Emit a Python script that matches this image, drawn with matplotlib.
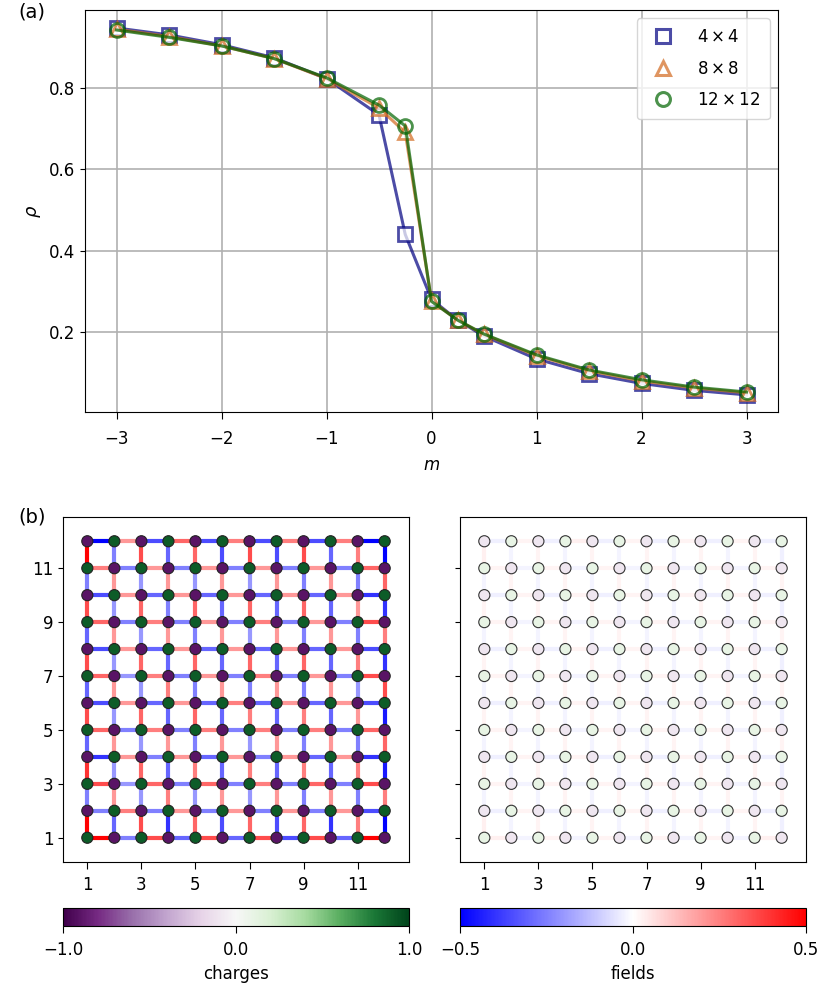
import numpy as np
import matplotlib
matplotlib.use("Agg")
import matplotlib.pyplot as plt
from matplotlib.collections import LineCollection
from matplotlib.lines import Line2D
from matplotlib.cm import ScalarMappable
from matplotlib.colors import Normalize

plt.rcParams['font.family'] = ['DejaVu Sans']
plt.rcParams['font.size'] = 12

# ---------------- panel (a) data ----------------
m_vals = [-3, -2.5, -2, -1.5, -1, -0.5, -0.25, 0, 0.25, 0.5, 1, 1.5, 2, 2.5, 3]
rho_4 = [0.946, 0.929, 0.905, 0.873, 0.822, 0.733, 0.440, 0.281, 0.230, 0.191, 0.135, 0.099, 0.075, 0.058, 0.047]
rho_8 = [0.943, 0.925, 0.902, 0.871, 0.822, 0.750, 0.690, 0.277, 0.230, 0.195, 0.143, 0.106, 0.081, 0.064, 0.052]
rho_12 = [0.941, 0.923, 0.902, 0.871, 0.824, 0.757, 0.706, 0.276, 0.230, 0.196, 0.145, 0.108, 0.084, 0.066, 0.054]
series_labels = [r'$4\times4$', r'$8\times8$', r'$12\times12$']

# ---------------- panel (b) data ----------------
L = 12
# site charges, rows from y=12 (top) down to y=1
charges_left = [
    [-0.9, 0.9, -0.9, 0.9, -0.9, 0.9, -0.9, 0.9, -0.9, 0.9, -0.9, 0.9],
    [0.9, -0.9, 0.9, -0.9, 0.9, -0.9, 0.9, -0.9, 0.9, -0.9, 0.9, -0.9],
    [-0.9, 0.9, -0.9, 0.9, -0.9, 0.9, -0.9, 0.9, -0.9, 0.9, -0.9, 0.9],
    [0.9, -0.9, 0.9, -0.9, 0.9, -0.9, 0.9, -0.9, 0.9, -0.9, 0.9, -0.9],
    [-0.9, 0.9, -0.9, 0.9, -0.9, 0.9, -0.9, 0.9, -0.9, 0.9, -0.9, 0.9],
    [0.9, -0.9, 0.9, -0.9, 0.9, -0.9, 0.9, -0.9, 0.9, -0.9, 0.9, -0.9],
    [-0.9, 0.9, -0.9, 0.9, -0.9, 0.9, -0.9, 0.9, -0.9, 0.9, -0.9, 0.9],
    [0.9, -0.9, 0.9, -0.9, 0.9, -0.9, 0.9, -0.9, 0.9, -0.9, 0.9, -0.9],
    [-0.9, 0.9, -0.9, 0.9, -0.9, 0.9, -0.9, 0.9, -0.9, 0.9, -0.9, 0.9],
    [0.9, -0.9, 0.9, -0.9, 0.9, -0.9, 0.9, -0.9, 0.9, -0.9, 0.9, -0.9],
    [-0.9, 0.9, -0.9, 0.9, -0.9, 0.9, -0.9, 0.9, -0.9, 0.9, -0.9, 0.9],
    [0.9, -0.9, 0.9, -0.9, 0.9, -0.9, 0.9, -0.9, 0.9, -0.9, 0.9, -0.9],
]
# horizontal link fields (x -> x+1), rows from y=12 down to y=1
fields_h_left = [
    [-0.5, 0.2, -0.35, 0.3, -0.35, 0.25, -0.35, 0.25, -0.35, 0.25, -0.5],
    [0.25, -0.25, 0.2, -0.25, 0.2, -0.25, 0.2, -0.25, 0.2, -0.25, 0.3],
    [-0.35, 0.2, -0.3, 0.2, -0.3, 0.2, -0.3, 0.2, -0.3, 0.2, -0.4],
    [0.3, -0.25, 0.25, -0.25, 0.2, -0.25, 0.25, -0.25, 0.2, -0.25, 0.35],
    [-0.35, 0.2, -0.3, 0.2, -0.3, 0.2, -0.3, 0.2, -0.3, 0.2, -0.35],
    [0.3, -0.2, 0.25, -0.25, 0.2, -0.25, 0.25, -0.25, 0.2, -0.25, 0.35],
    [-0.35, 0.2, -0.3, 0.2, -0.3, 0.25, -0.3, 0.2, -0.3, 0.2, -0.35],
    [0.3, -0.25, 0.25, -0.25, 0.25, -0.25, 0.25, -0.25, 0.25, -0.25, 0.3],
    [-0.4, 0.2, -0.25, 0.2, -0.3, 0.2, -0.25, 0.2, -0.3, 0.2, -0.4],
    [0.35, -0.2, 0.3, -0.25, 0.3, -0.25, 0.25, -0.25, 0.3, -0.25, 0.35],
    [-0.25, 0.25, -0.25, 0.2, -0.25, 0.2, -0.25, 0.2, -0.25, 0.2, -0.35],
    [0.5, -0.25, 0.35, -0.3, 0.35, -0.3, 0.35, -0.35, 0.35, -0.3, 0.5],
]
# vertical link fields (y -> y+1), rows from (11->12) down to (1->2)
fields_v_left = [
    [0.5, -0.25, 0.35, -0.3, 0.3, -0.35, 0.35, -0.35, 0.35, -0.3, 0.25, -0.5],
    [-0.25, 0.2, -0.2, 0.2, -0.2, 0.2, -0.2, 0.2, -0.25, 0.2, -0.25, 0.3],
    [0.35, -0.2, 0.3, -0.25, 0.3, -0.3, 0.3, -0.3, 0.3, -0.3, 0.2, -0.4],
    [-0.3, 0.2, -0.2, 0.2, -0.25, 0.2, -0.2, 0.2, -0.25, 0.2, -0.25, 0.25],
    [0.35, -0.2, 0.3, -0.3, 0.3, -0.3, 0.3, -0.3, 0.3, -0.3, 0.25, -0.4],
    [-0.3, 0.2, -0.2, 0.25, -0.25, 0.2, -0.25, 0.2, -0.25, 0.2, -0.2, 0.35],
    [0.35, -0.2, 0.3, -0.3, 0.3, -0.3, 0.25, -0.3, 0.25, -0.3, 0.2, -0.45],
    [-0.3, 0.2, -0.2, 0.2, -0.25, 0.2, -0.2, 0.2, -0.25, 0.2, -0.25, 0.3],
    [0.4, -0.2, 0.3, -0.3, 0.25, -0.3, 0.25, -0.3, 0.25, -0.3, 0.25, -0.45],
    [-0.25, 0.2, -0.2, 0.25, -0.2, 0.2, -0.2, 0.2, -0.25, 0.2, -0.25, 0.25],
    [0.5, -0.3, 0.35, -0.4, 0.3, -0.35, 0.3, -0.35, 0.3, -0.4, 0.25, -0.5],
]
# right panel: nearly neutral charges and very weak fields
charges_right = [
    [-0.1, 0.1, -0.1, 0.1, -0.1, 0.1, -0.1, 0.1, -0.1, 0.1, -0.1, 0.1],
    [0.1, -0.1, 0.1, -0.1, 0.1, -0.1, 0.1, -0.1, 0.1, -0.1, 0.1, -0.1],
    [-0.1, 0.1, -0.1, 0.1, -0.1, 0.1, -0.1, 0.1, -0.1, 0.1, -0.1, 0.1],
    [0.1, -0.1, 0.1, -0.1, 0.1, -0.1, 0.1, -0.1, 0.1, -0.1, 0.1, -0.1],
    [-0.1, 0.1, -0.1, 0.1, -0.1, 0.1, -0.1, 0.1, -0.1, 0.1, -0.1, 0.1],
    [0.1, -0.1, 0.1, -0.1, 0.1, -0.1, 0.1, -0.1, 0.1, -0.1, 0.1, -0.1],
    [-0.1, 0.1, -0.1, 0.1, -0.1, 0.1, -0.1, 0.1, -0.1, 0.1, -0.1, 0.1],
    [0.1, -0.1, 0.1, -0.1, 0.1, -0.1, 0.1, -0.1, 0.1, -0.1, 0.1, -0.1],
    [-0.1, 0.1, -0.1, 0.1, -0.1, 0.1, -0.1, 0.1, -0.1, 0.1, -0.1, 0.1],
    [0.1, -0.1, 0.1, -0.1, 0.1, -0.1, 0.1, -0.1, 0.1, -0.1, 0.1, -0.1],
    [-0.1, 0.1, -0.1, 0.1, -0.1, 0.1, -0.1, 0.1, -0.1, 0.1, -0.1, 0.1],
    [0.1, -0.1, 0.1, -0.1, 0.1, -0.1, 0.1, -0.1, 0.1, -0.1, 0.1, -0.1],
]
fields_h_right = [
    [-0.03, 0.02, -0.03, 0.03, -0.03, 0.02, -0.03, 0.02, -0.03, 0.02, -0.03],
    [0.02, -0.02, 0.02, -0.02, 0.02, -0.02, 0.02, -0.02, 0.02, -0.02, 0.02],
    [-0.03, 0.02, -0.03, 0.02, -0.03, 0.02, -0.03, 0.02, -0.03, 0.02, -0.03],
    [0.02, -0.02, 0.02, -0.02, 0.02, -0.02, 0.02, -0.02, 0.02, -0.02, 0.02],
    [-0.03, 0.02, -0.03, 0.02, -0.03, 0.02, -0.03, 0.02, -0.03, 0.02, -0.03],
    [0.02, -0.02, 0.02, -0.02, 0.02, -0.02, 0.02, -0.02, 0.02, -0.02, 0.02],
    [-0.03, 0.02, -0.03, 0.02, -0.03, 0.02, -0.03, 0.02, -0.03, 0.02, -0.03],
    [0.02, -0.02, 0.02, -0.02, 0.02, -0.02, 0.02, -0.02, 0.02, -0.02, 0.02],
    [-0.03, 0.02, -0.03, 0.02, -0.03, 0.02, -0.03, 0.02, -0.03, 0.02, -0.03],
    [0.02, -0.02, 0.02, -0.02, 0.02, -0.02, 0.02, -0.02, 0.02, -0.02, 0.02],
    [-0.03, 0.02, -0.03, 0.02, -0.03, 0.02, -0.03, 0.02, -0.03, 0.02, -0.03],
    [0.03, -0.02, 0.02, -0.02, 0.02, -0.02, 0.02, -0.02, 0.02, -0.02, 0.03],
]
fields_v_right = [
    [0.03, -0.02, 0.02, -0.02, 0.02, -0.02, 0.02, -0.02, 0.02, -0.02, 0.02, -0.03],
    [-0.02, 0.02, -0.02, 0.02, -0.02, 0.02, -0.02, 0.02, -0.02, 0.02, -0.02, 0.02],
    [0.02, -0.02, 0.02, -0.02, 0.02, -0.02, 0.02, -0.02, 0.02, -0.02, 0.02, -0.03],
    [-0.02, 0.02, -0.02, 0.02, -0.02, 0.02, -0.02, 0.02, -0.02, 0.02, -0.02, 0.02],
    [0.02, -0.02, 0.02, -0.02, 0.02, -0.02, 0.02, -0.02, 0.02, -0.02, 0.02, -0.03],
    [-0.02, 0.02, -0.02, 0.02, -0.02, 0.02, -0.02, 0.02, -0.02, 0.02, -0.02, 0.02],
    [0.02, -0.02, 0.02, -0.02, 0.02, -0.02, 0.02, -0.02, 0.02, -0.02, 0.02, -0.03],
    [-0.02, 0.02, -0.02, 0.02, -0.02, 0.02, -0.02, 0.02, -0.02, 0.02, -0.02, 0.02],
    [0.02, -0.02, 0.02, -0.02, 0.02, -0.02, 0.02, -0.02, 0.02, -0.02, 0.02, -0.03],
    [-0.02, 0.02, -0.02, 0.02, -0.02, 0.02, -0.02, 0.02, -0.02, 0.02, -0.02, 0.02],
    [0.03, -0.02, 0.02, -0.02, 0.02, -0.02, 0.02, -0.02, 0.02, -0.02, 0.02, -0.03],
]
lattice_ticks = [1, 3, 5, 7, 9, 11]
charge_ticks = [-1.0, 0.0, 1.0]
field_ticks = [-0.5, 0.0, 0.5]

# ---------------- figure ----------------
W, H = 830, 992
fig = plt.figure(figsize=(W / 100, H / 100), dpi=100)


def px_axes(x0, y0, x1, y1):
    return fig.add_axes([x0 / W, 1 - y1 / H, (x1 - x0) / W, (y1 - y0) / H])


# panel (a)
ax = px_axes(85, 10, 778, 412)
styles = [
    dict(marker='s', color='navy', mfc='white'),
    dict(marker='^', color='chocolate', mfc='white'),
    dict(marker='o', color='darkgreen', mfc='none'),
]
handles = []
for rho, st, lab in zip([rho_4, rho_8, rho_12], styles, series_labels):
    ax.plot(m_vals, rho, '-', color=st['color'], alpha=0.7, lw=2.2,
            marker=st['marker'], ms=10, mew=2, mfc=st['mfc'], mec=st['color'])
    handles.append(Line2D([], [], ls='none', marker=st['marker'], color=st['color'],
                          alpha=0.7, ms=10, mew=2.2, mfc='none', mec=st['color'], label=lab))
ax.set_xlim(-3.3, 3.3)
ax.set_ylim(0.005, 0.99)
ax.set_xticks([-3, -2, -1, 0, 1, 2, 3])
ax.set_yticks([0.2, 0.4, 0.6, 0.8])
ax.tick_params(axis='x', length=5, pad=8)
ax.grid(True, color='#b0b0b0', lw=1.2)
ax.set_axisbelow(True)
ax.set_xlabel(r'$m$', labelpad=6)
ax.set_ylabel(r'$\rho$', fontsize=13)
ax.legend(handles=handles, loc='upper right', fontsize=12, labelspacing=0.8,
          handletextpad=1.0, handlelength=2.0, borderpad=0.6)

fig.text(18 / W, 1 - 12 / H, '(a)', fontsize=14, va='center', ha='left')
fig.text(18 / W, 1 - 517 / H, '(b)', fontsize=14, va='center', ha='left')

fnorm = Normalize(-0.5, 0.5)
cnorm = Normalize(-1, 1)
cmap_f = plt.get_cmap('bwr')
cmap_c = plt.get_cmap('PRGn')


def draw_lattice(axl, charges, fh, fv, edge_col, show_ylabels):
    segs, vals = [], []
    for r, row in enumerate(fh):
        y = L - r
        for i, v in enumerate(row):
            x = i + 1
            segs.append([(x, y), (x + 1, y)])
            vals.append(v)
    for r, row in enumerate(fv):
        y = L - 1 - r
        for i, v in enumerate(row):
            x = i + 1
            segs.append([(x, y), (x, y + 1)])
            vals.append(v)
    lc = LineCollection(segs, colors=cmap_f(fnorm(np.array(vals))), linewidths=3.0, zorder=1)
    axl.add_collection(lc)
    xs, ys, cs = [], [], []
    for r, row in enumerate(charges):
        for i, q in enumerate(row):
            xs.append(i + 1)
            ys.append(L - r)
            cs.append(q)
    axl.scatter(xs, ys, c=cs, cmap=cmap_c, norm=cnorm, s=64, edgecolors=edge_col,
                linewidths=0.8, zorder=2)
    axl.set_xlim(0.1, 12.9)
    axl.set_ylim(0.1, 12.9)
    axl.set_xticks(lattice_ticks)
    axl.set_yticks(lattice_ticks)
    axl.tick_params(axis='x', length=5, pad=5)
    if not show_ylabels:
        axl.set_yticklabels([])


axb1 = px_axes(63, 517, 409, 862)
draw_lattice(axb1, charges_left, fields_h_left, fields_v_left, '#222222', True)
axb2 = px_axes(460, 517, 806, 862)
draw_lattice(axb2, charges_right, fields_h_right, fields_v_right, '#333333', False)

cax1 = px_axes(63, 908, 409, 926)
cb1 = fig.colorbar(ScalarMappable(norm=cnorm, cmap=cmap_c), cax=cax1, orientation='horizontal')
cb1.set_ticks(charge_ticks)
cb1.set_ticklabels([f'{t:.1f}'.replace('-', '\u2212') for t in charge_ticks])
cb1.set_label('charges', labelpad=4)
cb1.ax.tick_params(length=5, pad=6)

cax2 = px_axes(460, 908, 806, 926)
cb2 = fig.colorbar(ScalarMappable(norm=fnorm, cmap=cmap_f), cax=cax2, orientation='horizontal')
cb2.set_ticks(field_ticks)
cb2.set_ticklabels([f'{t:.1f}'.replace('-', '\u2212') for t in field_ticks])
cb2.set_label('fields', labelpad=4)
cb2.ax.tick_params(length=5, pad=6)

fig.savefig('out.png', dpi=100)
